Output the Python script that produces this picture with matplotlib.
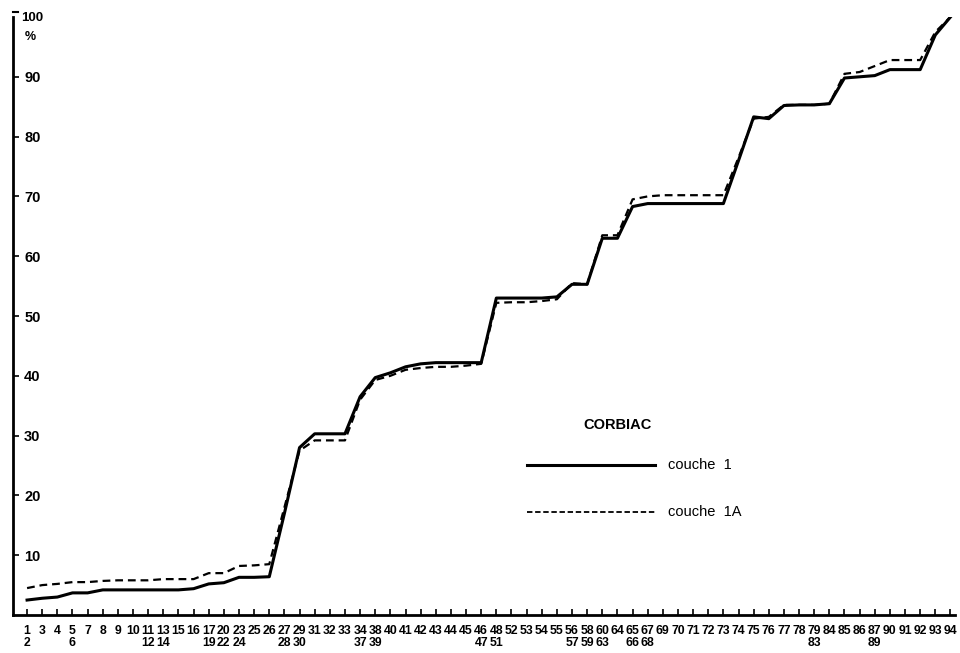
import matplotlib
matplotlib.use("Agg")
import matplotlib.pyplot as plt

plt.rcParams["font.family"] = ["Liberation Sans", "DejaVu Sans"]

# tool types on the x axis (stacked pairs share one position)
types_top = [1, 3, 4, 5, 7, 8, 9, 10, 11, 13, 15, 16, 17, 20, 23, 25, 26, 27, 29, 31,
             32, 33, 34, 38, 40, 41, 42, 43, 44, 45, 46, 48, 52, 53, 54, 55, 56, 58, 60, 64,
             65, 67, 69, 70, 71, 72, 73, 74, 75, 76, 77, 78, 79, 84, 85, 86, 87, 90, 91, 92,
             93, 94]
types_below = {1: 2, 5: 6, 11: 12, 13: 14, 17: 19, 20: 22, 23: 24, 27: 28, 29: 30,
               34: 37, 38: 39, 46: 47, 48: 51, 56: 57, 58: 59, 60: 63, 65: 66, 67: 68,
               79: 83, 87: 89}

# cumulative percentages
couche_1 = [2.5, 2.8, 3.0, 3.7, 3.7, 4.2, 4.2, 4.2, 4.2, 4.2, 4.2, 4.4, 5.2, 5.4, 6.3, 6.3,
            6.4, 17.0, 28.0, 30.3, 30.3, 30.3, 36.5, 39.7, 40.5, 41.5, 42.0, 42.2, 42.2, 42.2,
            42.2, 53.0, 53.0, 53.0, 53.0, 53.2, 55.3, 55.3, 63.0, 63.0, 68.3, 68.8, 68.8, 68.8,
            68.8, 68.8, 68.8, 76.0, 83.3, 83.0, 85.2, 85.3, 85.3, 85.5, 89.8, 90.0, 90.2, 91.2,
            91.2, 91.2, 97.0, 100.0]
couche_1A = [4.5, 5.0, 5.2, 5.5, 5.5, 5.7, 5.8, 5.8, 5.8, 6.0, 6.0, 6.0, 7.0, 7.0, 8.2, 8.3,
             8.5, 18.0, 27.5, 29.2, 29.2, 29.2, 36.0, 39.3, 40.0, 41.0, 41.3, 41.5, 41.5, 41.7,
             42.0, 52.2, 52.3, 52.3, 52.5, 52.8, 55.5, 55.3, 63.5, 63.5, 69.5, 70.0, 70.2, 70.2,
             70.2, 70.2, 70.2, 76.5, 83.0, 83.3, 85.3, 85.3, 85.3, 85.5, 90.5, 90.8, 91.8, 92.8,
             92.8, 92.8, 97.5, 100.0]

xs = list(range(len(types_top)))
tick_labels = [f"{t}\n{types_below[t]}" if t in types_below else f"{t}" for t in types_top]

fig = plt.figure(figsize=(9.6, 6.53), dpi=100)
ax = fig.add_axes([13 / 960, 38 / 653, 942 / 960, 598 / 653])

ax.plot(xs, couche_1, color="black", lw=2.2, solid_joinstyle="round")
ax.plot(xs, couche_1A, color="black", lw=1.6, dashes=(3.5, 2.2))

ax.set_xlim(-0.93, 61.3)
ax.set_ylim(0, 100)

for s in ["top", "right"]:
    ax.spines[s].set_visible(False)
for s in ["left", "bottom"]:
    ax.spines[s].set_linewidth(2.0)

ax.set_xticks(xs)
ax.set_xticklabels(tick_labels, fontsize=8.8, fontweight="bold", linespacing=1.0)
ax.tick_params(axis="x", direction="in", length=4, width=1.2, pad=7)

ax.set_yticks(range(10, 100, 10))
ax.set_yticklabels([str(v) for v in range(10, 100, 10)], fontsize=10.5, fontweight="bold")
ax.tick_params(axis="y", direction="in", length=4, width=1.2, pad=-8)
for lbl in ax.get_yticklabels():
    lbl.set_horizontalalignment("left")

# top of the y axis: small hook, 100 and %
ax.plot([0, 0.005], [100.8, 100.8], transform=ax.get_yaxis_transform(),
        color="black", lw=1.5, clip_on=False)
ax.text(0.009, 99.8, "100", transform=ax.get_yaxis_transform(), fontsize=9.5,
        fontweight="bold", ha="left", va="center")
ax.text(0.012, 96.7, "%", transform=ax.get_yaxis_transform(), fontsize=9,
        fontweight="bold", ha="left", va="center")

# legend
tr = fig.transFigure
fig.text(618 / 960, 1 - 425 / 653, "CORBIAC", fontsize=10.5,
         fontweight="bold", ha="center", va="center")
fig.lines.append(plt.Line2D([527 / 960, 655 / 960], [1 - 465 / 653] * 2, transform=tr,
                            color="black", lw=2.2))
fig.lines.append(plt.Line2D([527 / 960, 655 / 960], [1 - 512 / 653] * 2, transform=tr,
                            color="black", lw=1.3, dashes=(3, 1.5)))
fig.text(668 / 960, 1 - 465 / 653, "couche  1", fontsize=10.5,
         ha="left", va="center")
fig.text(668 / 960, 1 - 512 / 653, "couche  1A", fontsize=10.5,
         ha="left", va="center")

fig.savefig("out.png", dpi=100, facecolor="white")
